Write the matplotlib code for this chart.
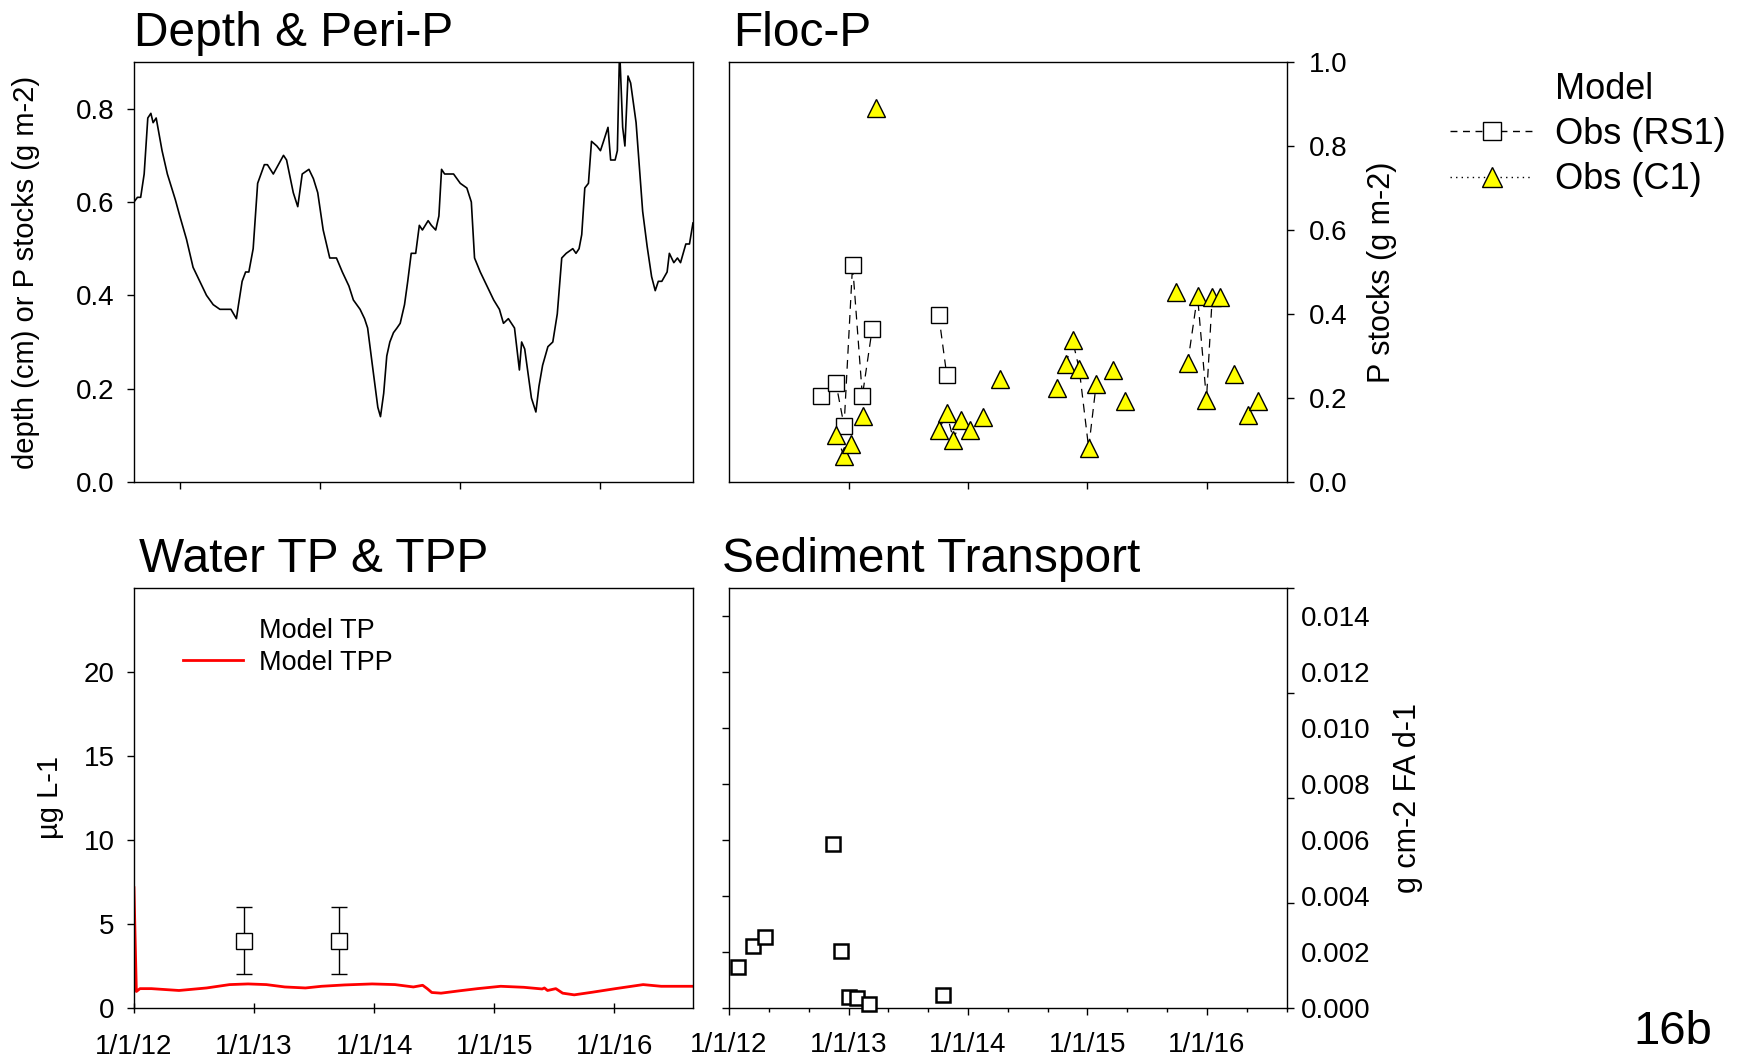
import numpy as np
import matplotlib.pyplot as plt
from matplotlib.lines import Line2D
from matplotlib.ticker import FuncFormatter, MultipleLocator

plt.rcParams['font.family'] = ['Liberation Sans', 'DejaVu Sans']

# ---- data (x in decimal years) ----
depth_year = [2012.667, 2012.692, 2012.715, 2012.740, 2012.766, 2012.788, 2012.804, 2012.826,
              2012.868, 2012.906, 2012.963, 2012.995, 2013.043, 2013.090, 2013.138, 2013.186,
              2013.234, 2013.282, 2013.361, 2013.400, 2013.415, 2013.441, 2013.466, 2013.489,
              2013.520, 2013.552, 2013.600, 2013.622, 2013.664, 2013.737, 2013.759, 2013.807,
              2013.839, 2013.871, 2013.919, 2013.951, 2013.982, 2014.021, 2014.068, 2014.116,
              2014.158, 2014.205, 2014.237, 2014.285, 2014.317, 2014.339, 2014.371, 2014.412,
              2014.431, 2014.454, 2014.476, 2014.498, 2014.524, 2014.549, 2014.572, 2014.603,
              2014.626, 2014.651, 2014.683, 2014.709, 2014.731, 2014.772, 2014.795, 2014.826,
              2014.849, 2014.868, 2014.890, 2014.954, 2015.002, 2015.049, 2015.081, 2015.104,
              2015.145, 2015.193, 2015.241, 2015.282, 2015.311, 2015.346, 2015.390, 2015.425,
              2015.441, 2015.463, 2015.511, 2015.543, 2015.565, 2015.591, 2015.629, 2015.664,
              2015.696, 2015.728, 2015.760, 2015.807, 2015.830, 2015.852, 2015.871, 2015.893,
              2015.919, 2015.941, 2015.979, 2016.005, 2016.027, 2016.059, 2016.078, 2016.110,
              2016.126, 2016.142, 2016.164, 2016.180, 2016.202, 2016.221, 2016.260, 2016.307,
              2016.339, 2016.371, 2016.397, 2016.419, 2016.444, 2016.482, 2016.498, 2016.530,
              2016.556, 2016.578, 2016.616, 2016.642, 2016.667]
depth_val = [0.60, 0.61, 0.61, 0.66, 0.78, 0.79, 0.77, 0.78,
             0.71, 0.66, 0.605, 0.57, 0.52, 0.46, 0.43, 0.40,
             0.38, 0.37, 0.37, 0.35, 0.38, 0.43, 0.45, 0.45,
             0.50, 0.64, 0.68, 0.68, 0.66, 0.70, 0.69, 0.62,
             0.59, 0.66, 0.67, 0.65, 0.62, 0.54, 0.48, 0.48,
             0.45, 0.42, 0.39, 0.37, 0.35, 0.33, 0.255, 0.16,
             0.14, 0.19, 0.27, 0.30, 0.32, 0.33, 0.34, 0.38,
             0.43, 0.49, 0.49, 0.55, 0.54, 0.56, 0.55, 0.54,
             0.57, 0.67, 0.66, 0.66, 0.64, 0.63, 0.60, 0.48,
             0.45, 0.42, 0.39, 0.37, 0.34, 0.35, 0.33, 0.24,
             0.30, 0.285, 0.18, 0.15, 0.205, 0.25, 0.29, 0.30,
             0.36, 0.48, 0.49, 0.50, 0.49, 0.50, 0.53, 0.63,
             0.64, 0.73, 0.72, 0.71, 0.73, 0.76, 0.69, 0.69,
             0.71, 0.93, 0.76, 0.72, 0.87, 0.855, 0.77, 0.58,
             0.505, 0.44, 0.41, 0.43, 0.43, 0.45, 0.49, 0.47,
             0.48, 0.47, 0.51, 0.51, 0.555]

# Floc-P observations (nan = break in connecting line)
rs1_year = [2012.768, 2012.895, 2012.963, 2013.034, 2013.116, 2013.198, np.nan, 2013.755, 2013.822]
rs1_val = [0.205, 0.235, 0.134, 0.517, 0.205, 0.364, np.nan, 0.398, 0.255]

c1_year = [2012.895, 2012.963, 2013.019, np.nan, 2013.120, np.nan, 2013.232, np.nan,
           2013.755, 2013.822, 2013.878, 2013.941, 2014.016, np.nan, 2014.128, np.nan, 2014.270, np.nan,
           2014.745, np.nan, 2014.819, 2014.875, 2014.931, 2015.010, 2015.073, np.nan, 2015.211, np.nan,
           2015.316, np.nan,
           2015.742, np.nan, 2015.839, 2015.921, 2015.996, 2016.044, 2016.108, np.nan, 2016.228, np.nan,
           2016.343, 2016.425]
c1_val = [0.113, 0.061, 0.090, np.nan, 0.158, np.nan, 0.891, np.nan,
          0.123, 0.164, 0.101, 0.148, 0.124, np.nan, 0.154, np.nan, 0.245, np.nan,
          0.223, np.nan, 0.280, 0.338, 0.269, 0.081, 0.233, np.nan, 0.267, np.nan,
          0.192, np.nan,
          0.452, np.nan, 0.283, 0.444, 0.196, 0.440, 0.440, np.nan, 0.258, np.nan,
          0.160, 0.192]

# Water TPP model and TP observations
tpp_year = [2012.000, 2012.020, 2012.050, 2012.145, 2012.375, 2012.605, 2012.796, 2012.950,
            2013.103, 2013.256, 2013.428, 2013.562, 2013.753, 2013.983, 2014.174, 2014.327,
            2014.404, 2014.442, 2014.480, 2014.557, 2014.710, 2014.862, 2015.054, 2015.246,
            2015.399, 2015.418, 2015.444, 2015.513, 2015.570, 2015.666, 2015.820, 2016.010,
            2016.240, 2016.390, 2016.655]
tpp_val = [7.16, 0.98, 1.15, 1.15, 1.04, 1.19, 1.39, 1.43,
           1.39, 1.25, 1.19, 1.29, 1.37, 1.43, 1.39, 1.25,
           1.35, 1.15, 0.92, 0.88, 1.02, 1.15, 1.29, 1.23,
           1.13, 1.19, 1.04, 1.15, 0.88, 0.78, 0.94, 1.15,
           1.39, 1.29, 1.29]
tp_obs_year = [2012.919, 2013.707]
tp_obs_val = [4.0, 4.0]
tp_obs_err = [2.0, 2.0]

# Sediment transport
sed_year = [2012.077, 2012.202, 2012.303, 2012.870, 2012.934, 2013.000, 2013.072, 2013.173, 2013.788]
sed_val = [0.00148, 0.00223, 0.00252, 0.00584, 0.00203, 0.00039, 0.00034, 0.00014, 0.00046]

year_ticks = [2012, 2013, 2014, 2015, 2016]
date_fmt = FuncFormatter(lambda x, p: "1/1/%02d" % (int(round(x)) % 100))

TICK = 20
DASH = (0, (7, 5))

fig = plt.figure(figsize=(17.42, 10.6), dpi=100)

ax1 = fig.add_axes([0.0769, 0.5453, 0.3209, 0.3962])
ax2 = fig.add_axes([0.4185, 0.5453, 0.3203, 0.3962])
ax3 = fig.add_axes([0.0769, 0.0491, 0.3209, 0.3962])
ax4 = fig.add_axes([0.4185, 0.0491, 0.3203, 0.3962])
tw = ax4.twinx()

for ax in (ax1, ax2, ax3, ax4):
    for s in ax.spines.values():
        s.set_linewidth(1.0)
    ax.tick_params(labelsize=TICK, length=5, width=1, direction='out', pad=9)

# ---- Depth & Peri-P ----
ax1.plot(depth_year, depth_val, color='black', lw=1.2)
ax1.set_xlim(2012.667, 2016.667)
ax1.set_ylim(0, 0.9)
ax1.set_xticks(year_ticks[1:])
ax1.tick_params(axis='x', labelbottom=False)
ax1.set_yticks(np.arange(0, 0.81, 0.2))
ax1.yaxis.set_major_formatter(FuncFormatter(lambda v, p: "%.1f" % v))
ax1.set_ylabel('depth (cm) or P stocks (g m-2)', fontsize=21, labelpad=26)

# ---- Floc-P ----
ax2.plot(rs1_year, rs1_val, ls=DASH, color='black', lw=0.9, marker='s', ms=11,
         mfc='white', mec='black', mew=1.0)
ax2.plot(c1_year, c1_val, ls=DASH, color='black', lw=0.9, marker='^', ms=13,
         mfc='yellow', mec='black', mew=1.0)
ax2.set_xlim(2012.0, 2016.67)
ax2.set_ylim(0, 1.0)
ax2.set_xticks(year_ticks[1:])
ax2.tick_params(axis='x', labelbottom=False)
ax2.set_yticks(np.arange(0, 1.01, 0.2))
ax2.yaxis.set_major_formatter(FuncFormatter(lambda v, p: "%.1f" % v))
ax2.tick_params(axis='y', left=False, right=True, labelleft=False, labelright=True, pad=11)
ax2.yaxis.set_label_position('right')
ax2.set_ylabel('P stocks (g m-2)', fontsize=22, labelpad=14)

h_model = Line2D([], [], color='none')
h_rs1 = Line2D([], [], color='black', ls=(0, (5, 4)), lw=1.0, marker='s', ms=13,
               mfc='white', mec='black', mew=1.0)
h_c1 = Line2D([], [], color='black', ls=(0, (1, 3)), lw=1.0, marker='^', ms=15,
              mfc='yellow', mec='black', mew=1.0)
fig.legend([h_model, h_rs1, h_c1], ['Model', 'Obs (RS1)', 'Obs (C1)'],
           loc='upper left', bbox_to_anchor=(1450 / 1742, 1 - 72 / 1060),
           frameon=False, fontsize=26, handlelength=2.3, handletextpad=0.6,
           labelspacing=0.28, borderpad=0, borderaxespad=0)

# ---- Water TP & TPP ----
h_tp, = ax3.plot([], [], color='none')
h_tpp, = ax3.plot(tpp_year, tpp_val, color='red', lw=2.0)
ax3.errorbar(tp_obs_year, tp_obs_val, yerr=tp_obs_err, fmt='s', ms=11, mfc='white',
             mec='black', mew=1.0, ecolor='black', elinewidth=1.0, capsize=6, capthick=1.0)
ax3.set_xlim(2012.0, 2016.655)
ax3.set_ylim(0, 25)
ax3.set_xticks(year_ticks)
ax3.xaxis.set_major_formatter(date_fmt)
ax3.tick_params(axis='x', direction='inout', length=7, pad=15)
ax3.set_yticks(np.arange(0, 21, 5))
ax3.set_ylabel('µg L-1', fontsize=21, labelpad=14)
ax3.legend([h_tp, h_tpp], ['Model TP', 'Model TPP'], loc='upper left',
           bbox_to_anchor=(0.0877, 0.928), frameon=False, fontsize=19.5,
           handlelength=2.2, handletextpad=0.62, labelspacing=0.2,
           borderpad=0, borderaxespad=0)

# ---- Sediment Transport ----
ax4.plot(sed_year, sed_val, ls='none', marker='s', ms=10, mfc='white', mec='black',
         mew=1.8, clip_on=False, zorder=5)
ax4.set_xlim(2012.0, 2016.67)
ax4.set_ylim(0, 0.015)
ax4.set_xticks(year_ticks)
ax4.xaxis.set_major_formatter(date_fmt)
ax4.xaxis.set_minor_locator(MultipleLocator(1 / 3))
ax4.tick_params(axis='x', which='major', pad=12)
ax4.tick_params(axis='x', which='minor', length=3, width=1, direction='out')
ax4.set_yticks(np.arange(0, 0.0141, 0.002))
ax4.yaxis.set_major_formatter(FuncFormatter(lambda v, p: "%.3f" % v))
ax4.tick_params(axis='y', left=True, right=False, labelleft=False, labelright=True, pad=5)
ax4.yaxis.set_label_position('right')
ax4.set_ylabel('g cm-2 FA d-1', fontsize=22, labelpad=16)
tw.set_ylim(0, 4)
tw.set_yticks(range(5))
tw.tick_params(axis='y', labelright=False, length=5, width=1, direction='out')
for s in tw.spines.values():
    s.set_visible(False)

# ---- titles ----
fig.text(134 / 1742, 1 - 46 / 1060, 'Depth & Peri-P', fontsize=34.5, va='baseline')
fig.text(733 / 1742, 1 - 46 / 1060, 'Floc-P', fontsize=34.5, va='baseline')
fig.text(139 / 1742, 1 - 572 / 1060, 'Water TP & TPP', fontsize=34.5, va='baseline')
fig.text(722 / 1742, 1 - 572 / 1060, 'Sediment Transport', fontsize=34.5, va='baseline')
fig.text(1633 / 1742, 1 - 1044 / 1060, '16b', fontsize=34, va='baseline')

fig.savefig('out.png', dpi=100)
